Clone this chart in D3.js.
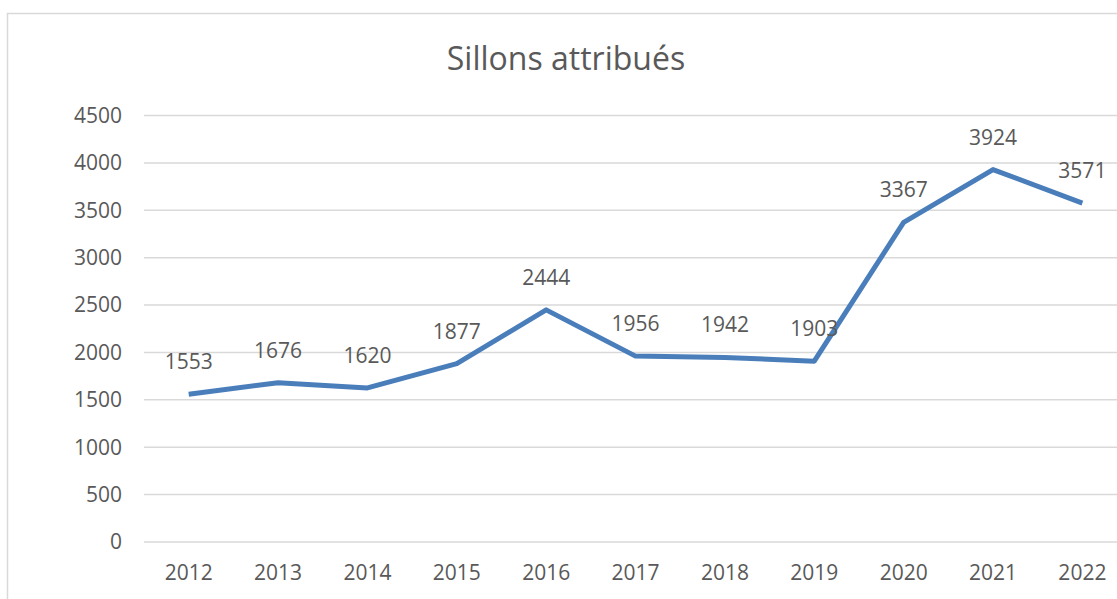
<!DOCTYPE html>
<html><head><meta charset="utf-8">
<script src="https://cdn.jsdelivr.net/npm/d3@7"></script>
<style>body{margin:0;background:#fff}svg{display:block}text{font-family:"Open Sans",sans-serif;fill:#595959}</style>
</head><body><svg id="c" width="1117" height="599"></svg>
<script>
const years = ["2012","2013","2014","2015","2016","2017","2018","2019","2020","2021","2022"];
const values = [1553,1676,1620,1877,2444,1956,1942,1903,3367,3924,3571];
const yTicks = [0,500,1000,1500,2000,2500,3000,3500,4000,4500];
const title = "Sillons attribués";

const svg = d3.select("#c");
const x = d3.scaleBand().domain(years).range([144, 144 + 11*89.37]);
const y = d3.scaleLinear().domain([0,4500]).range([541.5,115]);

svg.append("rect").attr("x",7.5).attr("y",13.5).attr("width",1200).attr("height",700)
  .attr("fill","#fff").attr("stroke","#d9d9d9").attr("stroke-width",1.5);

svg.append("text").attr("x",566).attr("y",70).attr("text-anchor","middle")
  .style("font-size","32px").text(title);

const yAxis = svg.append("g").attr("transform","translate(144,0)")
  .call(d3.axisLeft(y).tickValues(yTicks).tickSize(-1000).tickFormat(d3.format("d")).tickPadding(22));
yAxis.select(".domain").remove();
yAxis.selectAll("line").attr("stroke","#d9d9d9").attr("stroke-width",1.5);
yAxis.selectAll("text").style("font-size","21px").attr("fill","#595959").attr("dy","0.35em");

const xAxis = svg.append("g").attr("transform","translate(0,541.5)")
  .call(d3.axisBottom(x).tickSize(0).tickPadding(24));
xAxis.select(".domain").remove();
xAxis.selectAll("text").style("font-size","21px").attr("fill","#595959").attr("dy","0.71em");

const cx = d => x(d) + x.bandwidth()/2;
svg.append("path").datum(values.map((v,i)=>[years[i],v]))
  .attr("fill","none").attr("stroke","#4a7ebb").attr("stroke-width",5)
  .attr("stroke-linejoin","round").attr("stroke-linecap","butt")
  .attr("d", d3.line().x(d=>cx(d[0])).y(d=>y(d[1])));

svg.append("g").selectAll("text").data(values).join("text")
  .attr("x",(d,i)=>cx(years[i])).attr("y",d=>y(d)-25).attr("text-anchor","middle")
  .style("font-size","21px").attr("fill","#404040").text(d=>d);
</script></body></html>
